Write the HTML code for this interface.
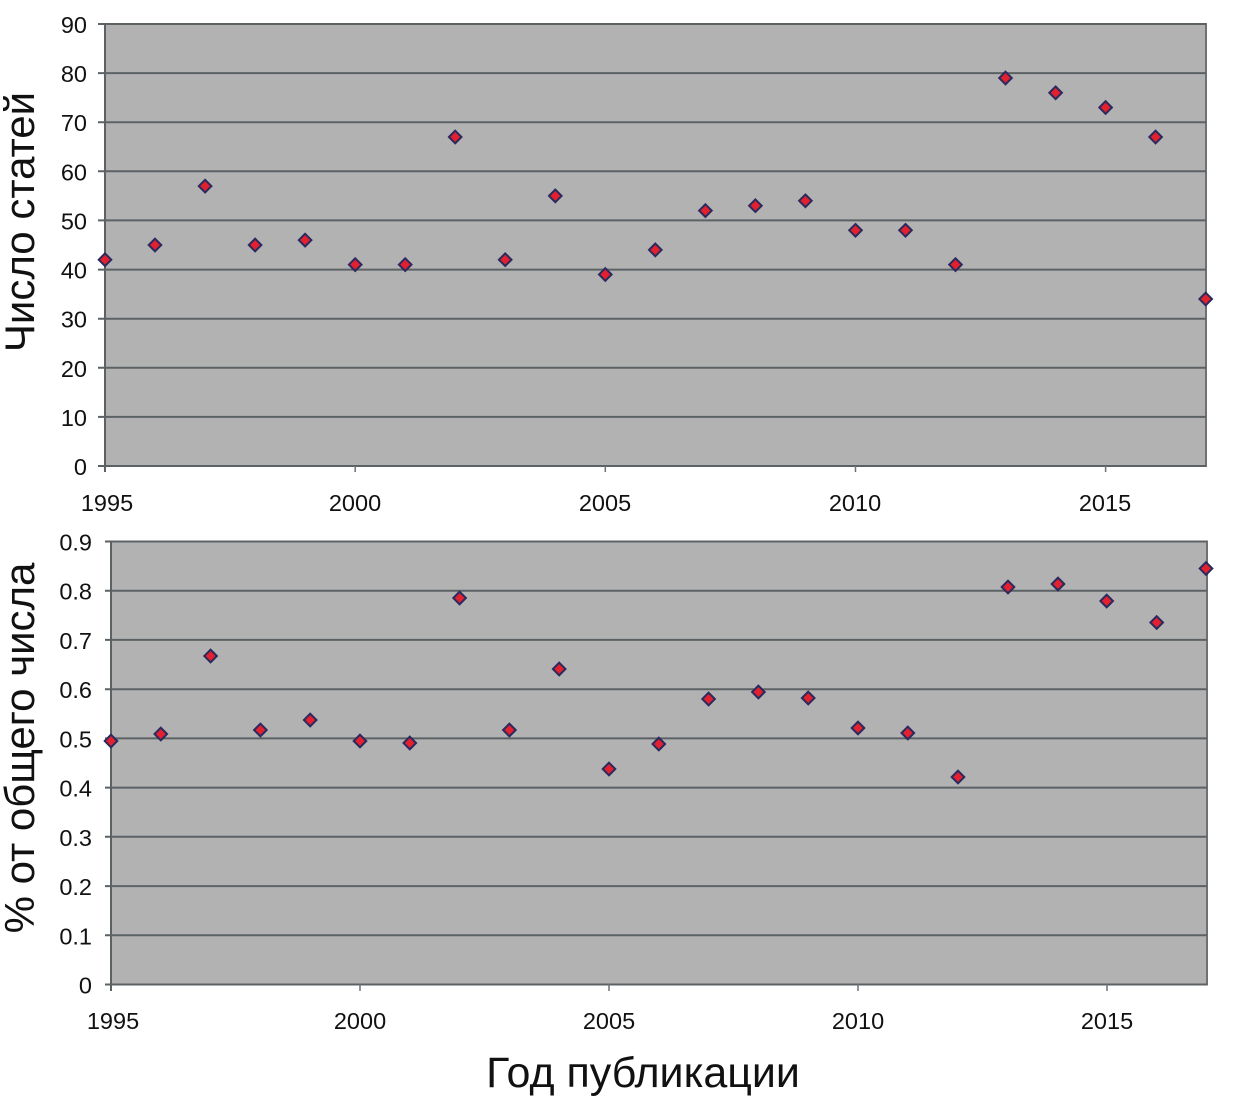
<!DOCTYPE html>
<html>
<head>
<meta charset="utf-8">
<style>
html,body{margin:0;padding:0;background:#fff;}
svg{display:block;}
text{font-family:"Liberation Sans",Arial,sans-serif;fill:#111;}
</style>
</head>
<body>
<svg width="1240" height="1096" viewBox="0 0 1240 1096" xmlns="http://www.w3.org/2000/svg">
<defs>
<path id="m" d="M0,-6.3 L6.3,0 L0,6.3 L-6.3,0 Z" fill="#e2202e" stroke="#2b2a5e" stroke-width="2"/>
</defs>

<!-- TOP CHART -->
<rect x="105" y="24" width="1101" height="442" fill="#b2b2b3" stroke="#6e7173" stroke-width="2"/>
<g stroke="#5c6264" stroke-width="2">
<line x1="98" y1="24.0" x2="1206" y2="24.0"/>
<line x1="98" y1="73.1" x2="1206" y2="73.1"/>
<line x1="98" y1="122.2" x2="1206" y2="122.2"/>
<line x1="98" y1="171.3" x2="1206" y2="171.3"/>
<line x1="98" y1="220.4" x2="1206" y2="220.4"/>
<line x1="98" y1="269.6" x2="1206" y2="269.6"/>
<line x1="98" y1="318.7" x2="1206" y2="318.7"/>
<line x1="98" y1="367.8" x2="1206" y2="367.8"/>
<line x1="98" y1="416.9" x2="1206" y2="416.9"/>
<line x1="98" y1="466" x2="1206" y2="466"/>
</g>
<line x1="105" y1="24" x2="105" y2="472" stroke="#5c6264" stroke-width="2"/>
<g stroke="#6e7173" stroke-width="1.5">
<line x1="355.2" y1="466" x2="355.2" y2="472"/>
<line x1="605.3" y1="466" x2="605.3" y2="472"/>
<line x1="855.5" y1="466" x2="855.5" y2="472"/>
<line x1="1105.6" y1="466" x2="1105.6" y2="472"/>
</g>
<g font-size="23.5" text-anchor="end">
<text x="87" y="33">90</text>
<text x="87" y="82.1">80</text>
<text x="87" y="131.2">70</text>
<text x="87" y="180.3">60</text>
<text x="87" y="229.4">50</text>
<text x="87" y="278.6">40</text>
<text x="87" y="327.7">30</text>
<text x="87" y="376.8">20</text>
<text x="87" y="425.9">10</text>
<text x="87" y="475">0</text>
</g>
<g font-size="23.5" text-anchor="middle">
<text x="107" y="511">1995</text>
<text x="355" y="511">2000</text>
<text x="605" y="511">2005</text>
<text x="855" y="511">2010</text>
<text x="1105" y="511">2015</text>
</g>
<text transform="translate(34,222) rotate(-90)" font-size="42" text-anchor="middle">Число статей</text>
<g>
<use href="#m" x="105" y="259.7"/>
<use href="#m" x="155" y="245.0"/>
<use href="#m" x="205.1" y="186.1"/>
<use href="#m" x="255.1" y="245.0"/>
<use href="#m" x="305.1" y="240.1"/>
<use href="#m" x="355.2" y="264.6"/>
<use href="#m" x="405.2" y="264.6"/>
<use href="#m" x="455.2" y="137.0"/>
<use href="#m" x="505.2" y="259.7"/>
<use href="#m" x="555.3" y="195.9"/>
<use href="#m" x="605.3" y="274.5"/>
<use href="#m" x="655.3" y="249.9"/>
<use href="#m" x="705.4" y="210.6"/>
<use href="#m" x="755.4" y="205.7"/>
<use href="#m" x="805.4" y="200.8"/>
<use href="#m" x="855.5" y="230.3"/>
<use href="#m" x="905.5" y="230.3"/>
<use href="#m" x="955.5" y="264.6"/>
<use href="#m" x="1005.5" y="78.0"/>
<use href="#m" x="1055.6" y="92.8"/>
<use href="#m" x="1105.6" y="107.5"/>
<use href="#m" x="1155.6" y="137.0"/>
<use href="#m" x="1205.7" y="299.0"/>
</g>

<!-- BOTTOM CHART -->
<rect x="111" y="541.5" width="1096" height="443" fill="#b2b2b3" stroke="#6e7173" stroke-width="2"/>
<g stroke="#5c6264" stroke-width="2">
<line x1="105" y1="541.5" x2="1207" y2="541.5"/>
<line x1="105" y1="590.7" x2="1207" y2="590.7"/>
<line x1="105" y1="639.9" x2="1207" y2="639.9"/>
<line x1="105" y1="689.2" x2="1207" y2="689.2"/>
<line x1="105" y1="738.4" x2="1207" y2="738.4"/>
<line x1="105" y1="787.6" x2="1207" y2="787.6"/>
<line x1="105" y1="836.8" x2="1207" y2="836.8"/>
<line x1="105" y1="886.1" x2="1207" y2="886.1"/>
<line x1="105" y1="935.3" x2="1207" y2="935.3"/>
<line x1="105" y1="984.5" x2="1207" y2="984.5"/>
</g>
<line x1="111" y1="541.5" x2="111" y2="991" stroke="#5c6264" stroke-width="2"/>
<g stroke="#6e7173" stroke-width="1.5">
<line x1="360" y1="984.5" x2="360" y2="991"/>
<line x1="609" y1="984.5" x2="609" y2="991"/>
<line x1="858" y1="984.5" x2="858" y2="991"/>
<line x1="1107" y1="984.5" x2="1107" y2="991"/>
</g>
<g font-size="23.5" text-anchor="end">
<text x="92" y="550.5">0.9</text>
<text x="92" y="599.7">0.8</text>
<text x="92" y="648.9">0.7</text>
<text x="92" y="698.2">0.6</text>
<text x="92" y="747.4">0.5</text>
<text x="92" y="796.6">0.4</text>
<text x="92" y="845.8">0.3</text>
<text x="92" y="895.1">0.2</text>
<text x="92" y="944.3">0.1</text>
<text x="92" y="993.5">0</text>
</g>
<g font-size="23.5" text-anchor="middle">
<text x="113" y="1029">1995</text>
<text x="360" y="1029">2000</text>
<text x="609" y="1029">2005</text>
<text x="858" y="1029">2010</text>
<text x="1107" y="1029">2015</text>
</g>
<text transform="translate(34,748) rotate(-90)" font-size="42" text-anchor="middle">% от общего числа</text>
<text x="643" y="1087" font-size="43" text-anchor="middle">Год публикации</text>
<g>
<use href="#m" x="111" y="741"/>
<use href="#m" x="160.8" y="734"/>
<use href="#m" x="210.6" y="656"/>
<use href="#m" x="260.4" y="730"/>
<use href="#m" x="310.2" y="720"/>
<use href="#m" x="360" y="741"/>
<use href="#m" x="409.8" y="743"/>
<use href="#m" x="459.6" y="598"/>
<use href="#m" x="509.4" y="730"/>
<use href="#m" x="559.2" y="669"/>
<use href="#m" x="609" y="769"/>
<use href="#m" x="658.8" y="744"/>
<use href="#m" x="708.6" y="699"/>
<use href="#m" x="758.4" y="692"/>
<use href="#m" x="808.2" y="698"/>
<use href="#m" x="858" y="728"/>
<use href="#m" x="907.8" y="733"/>
<use href="#m" x="958" y="777"/>
<use href="#m" x="1008" y="587"/>
<use href="#m" x="1058" y="584"/>
<use href="#m" x="1106.7" y="601"/>
<use href="#m" x="1156.7" y="622.5"/>
<use href="#m" x="1206" y="568.5"/>
</g>
</svg>
</body>
</html>
